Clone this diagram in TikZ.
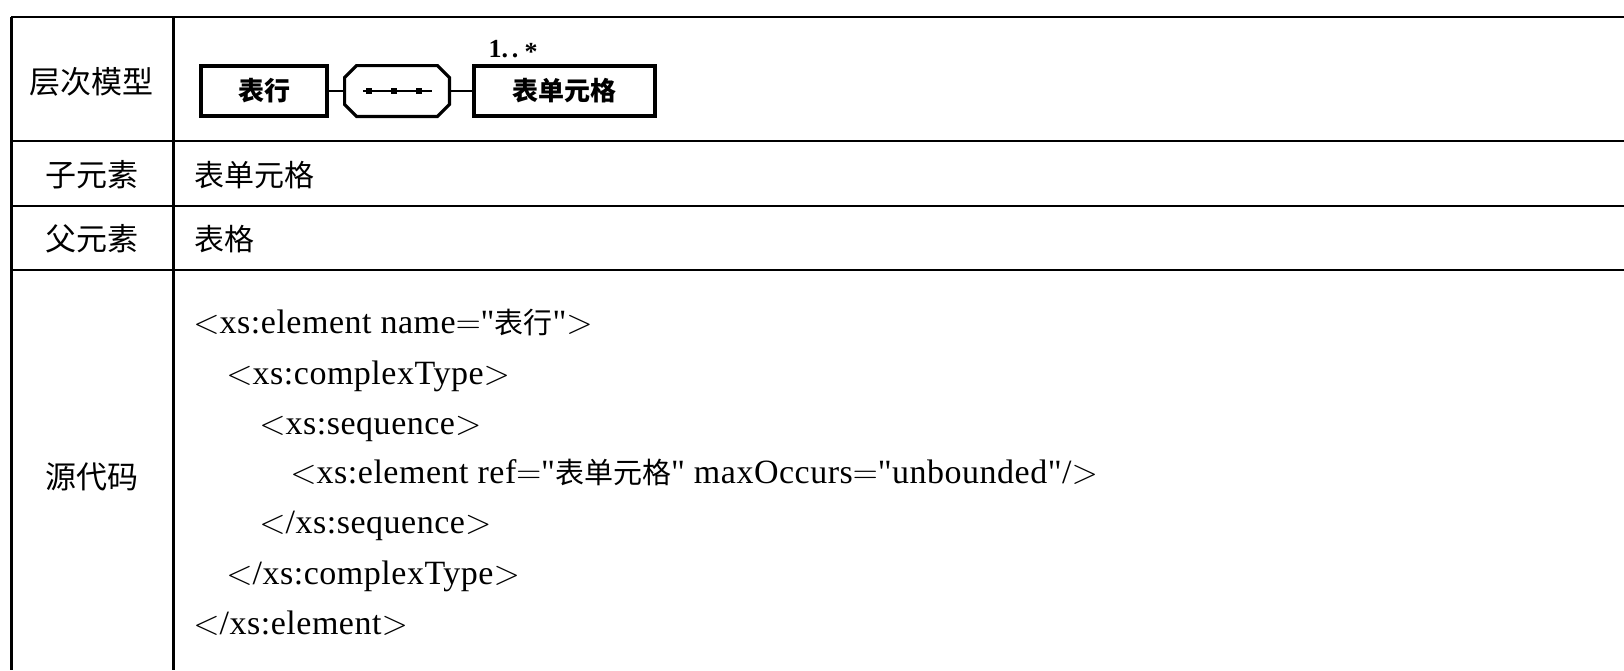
\documentclass[tikz,border=0pt]{standalone}
\usepackage{fontspec}
\setmainfont{Liberation Serif}
\newfontfamily\cjk{Noto Sans CJK SC}
\newfontfamily\codefont{Liberation Serif}[LetterSpace=1.5]
\newcommand{\xlt}{$<$}
\newcommand{\xgt}{$>$}
\newcommand{\xeq}{$=$}
\newcommand{\cjkc}[1]{{\fontsize{14.5}{17}\selectfont\cjk #1}}
\usetikzlibrary{calc}
\begin{document}
\begin{tikzpicture}[x=0.5pt,y=-0.5pt,
  rule/.style={line width=1pt},
  thickrule/.style={line width=1.5pt},
  lab/.style={font=\fontsize{15.5}{18}\selectfont\cjk, inner sep=0pt},
  content/.style={font=\fontsize{15}{18}\selectfont\cjk, anchor=west, inner sep=0pt},
  code/.style={font=\fontsize{17}{20}\selectfont\codefont, anchor=west, inner sep=0pt, text height=12pt, text depth=3pt},
  elem/.style={draw, line width=1.6pt, inner sep=0pt, minimum height=25pt, font=\fontsize{13}{15}\selectfont\cjk\bfseries},
  link/.style={line width=0.7pt},
  sq/.style={fill, minimum size=3pt, inner sep=0pt}]
\useasboundingbox (0,0) rectangle (1624,670);
% table rules
\draw[rule] (11,17) -- (1624,17);
\draw[rule] (11,141) -- (1624,141);
\draw[rule] (11,206) -- (1624,206);
\draw[rule] (11,270) -- (1624,270);
\draw[thickrule] (11,17) -- (11,670);
\draw[thickrule] (173,17) -- (173,670);
% labels
\node[lab] (l1) at (92,82) {层次模型};
\node[lab] (l2) at (92,175) {子元素};
\node[lab] (l3) at (92,239) {父元素};
\node[lab] (l4) at (92,477) {源代码};
% content
\node[content] (c2) at (194,175) {表单元格};
\node[content] (c3) at (194,239) {表格};
% model
\node[elem, minimum width=63pt] (row) at (264,91) {表行};
\node[minimum width=52pt, minimum height=25pt, inner sep=0pt] (seq) at (397,91) {};
\node[elem, minimum width=90.5pt] (cell) at (564.5,91) {表单元格};
\draw[line width=1.6pt] ($(seq.north west)+(12,0)$) -- ($(seq.north east)+(-12,0)$) -- ($(seq.north east)+(0,12)$) -- ($(seq.south east)+(0,-12)$) -- ($(seq.south east)+(-12,0)$) -- ($(seq.south west)+(12,0)$) -- ($(seq.south west)+(0,-12)$) -- ($(seq.north west)+(0,12)$) -- cycle;
\coordinate (sa) at (363,91);
\coordinate (sb) at (432,91);
\draw[line width=1pt] (sa) -- (sb);
\node[sq] (q1) at (369,91) {};
\node[sq] (q2) at (394,91) {};
\node[sq] (q3) at (419,91) {};
\draw[link] (row.east) -- (seq.west);
\draw[link] (seq.east) -- (cell.west);
\node[font=\fontsize{13}{15}\selectfont\bfseries, inner sep=0pt] (mult) at (513,50) {1.\hspace{2pt}.\hspace{3pt}\raisebox{-1.5pt}{*}};
% code
\node[code] (k1) at (193,324) {\xlt xs:element name\xeq"\cjkc{表行}"\xgt};
\node[code] (k2) at (226,375) {\xlt xs:complexType\xgt};
\node[code] (k3) at (259,425) {\xlt xs:sequence\xgt};
\node[code] (k4) at (290,474) {\xlt xs:element ref\xeq"\cjkc{表单元格}" maxOccurs\xeq"unbounded"/\xgt};
\node[code] (k5) at (259,524) {\xlt/xs:sequence\xgt};
\node[code] (k6) at (226,575) {\xlt/xs:complexType\xgt};
\node[code] (k7) at (193,625) {\xlt/xs:element\xgt};
\end{tikzpicture}
\end{document}
